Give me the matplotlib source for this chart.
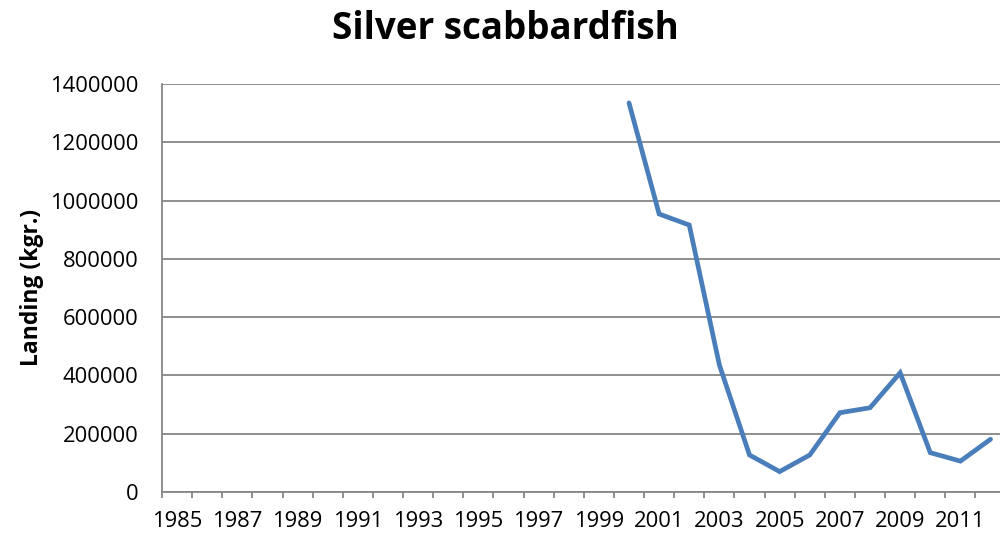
import matplotlib
matplotlib.use('Agg')
from matplotlib import pyplot as plt
import numpy as np

plt.rcParams['font.family'] = ['Open Sans', 'DejaVu Sans']

years = [2000, 2001, 2002, 2003, 2004, 2005, 2006, 2007, 2008, 2009, 2010, 2011, 2012]
landing = [1335000, 954000, 916000, 436000, 127000, 70000, 127000, 272000, 289000, 409000, 135000, 106000, 181000]
tick_years = list(range(1985, 2012, 2))
y_ticks = list(range(0, 1400001, 200000))

grey = '#868686'

fig = plt.figure(figsize=(10, 5.38), dpi=100)
# plot area runs a bit past the right edge, as in the original
ax = fig.add_axes([0.162, 0.0855, 0.8436, 0.7584])

ax.plot(years, landing, color='#4A7EBB', linewidth=3.4, solid_capstyle='round', solid_joinstyle='miter')

ax.set_xlim(1984.5, 2012.5)
ax.set_ylim(0, 1400000)

ax.set_yticks(y_ticks)
ax.set_yticklabels([str(v) for v in y_ticks])
ax.yaxis.grid(True, color=grey, linewidth=1.3)
ax.set_axisbelow(True)

ax.set_xticks(tick_years)
ax.set_xticklabels([str(y) for y in tick_years])
ax.set_xticks(np.arange(1984.5, 2013, 1), minor=True)
ax.tick_params(axis='x', which='major', length=0, pad=14, labelsize=15.8, labelcolor='black')
ax.tick_params(axis='x', which='minor', length=4, width=1.3, color=grey, direction='out')
ax.tick_params(axis='y', which='major', length=0, pad=17, labelsize=15.8)

for s in ['top', 'right']:
    ax.spines[s].set_visible(False)
for s in ['left', 'bottom']:
    ax.spines[s].set_color(grey)
    ax.spines[s].set_linewidth(1.3)

ax.set_ylabel('Landing (kgr.)', fontsize=16.5, fontweight='bold', labelpad=4)
fig.text(0.505, 0.947, 'Silver scabbardfish', ha='center', va='center', fontsize=26.5, fontweight='bold')

fig.savefig('out.png', dpi=100)
